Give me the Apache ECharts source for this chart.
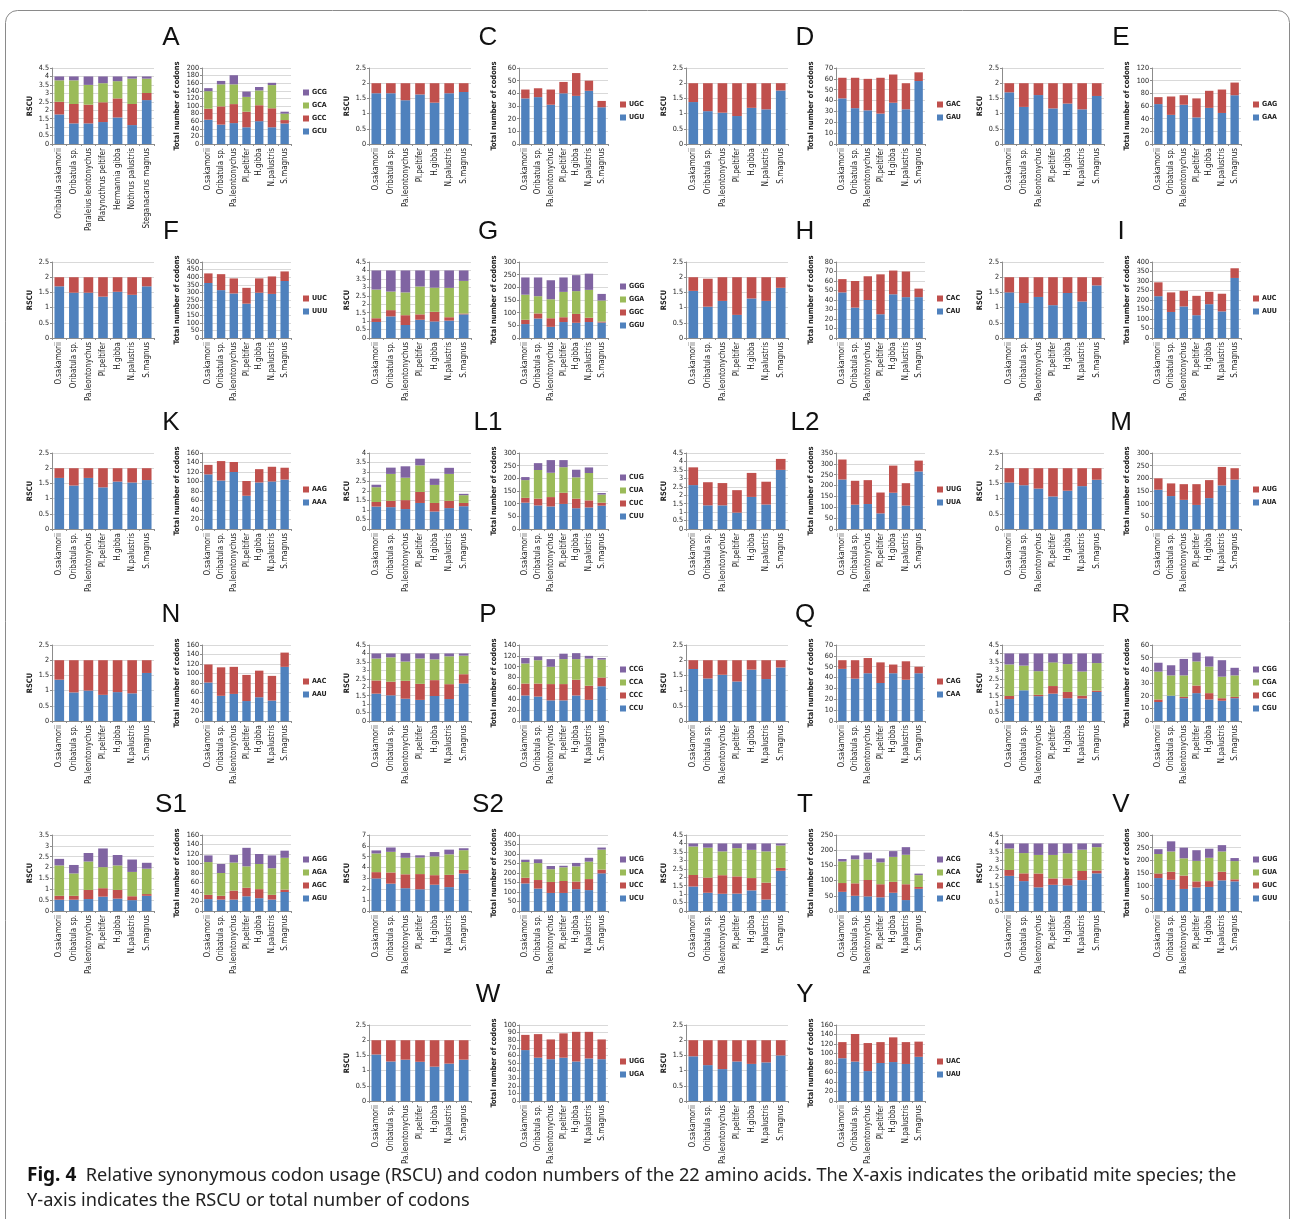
<!DOCTYPE html>
<html><head><meta charset="utf-8">
<script src="https://cdn.jsdelivr.net/npm/echarts@6/dist/echarts.min.js"></script>
<style>html,body{margin:0;padding:0;background:#fff;} #c{width:1295px;height:1219px;}</style>
</head><body><div id="c"></div>
<script>
const speciesShort = ['O.sakamorii','Oribatula sp.','Pa.leontonychus','Pl.peltifer','H.gibba','N.palustris','S.magnus'];
const speciesFull = ['Oribatula sakamorii','Oribatula sp.','Paraleius leontonychus','Platynothrus peltifer','Hermannia gibba','Nothrus palustris','Steganacarus magnus'];

const codons_A = ['GCU','GCC','GCA','GCG'];
const rscu_A = [[1.75,1.22,1.22,1.30,1.57,1.12,2.60],[0.75,1.15,1.11,1.17,1.13,1.25,0.42],[1.27,1.40,1.17,1.13,1.02,1.50,0.85],[0.23,0.23,0.50,0.40,0.28,0.13,0.13]];
const count_A = [[64,51,55,44,60,44,54],[29,48,50,41,42,50,9],[46,58,52,39,39,61,17],[8,9,24,14,9,6,5]];
const rscuTicks_A = [4.5,0.5], countTicks_A = [200,20];

const codons_C = ['UGU','UGC'];
const rscu_C = [[1.67,1.67,1.44,1.63,1.36,1.67,1.71],[0.33,0.33,0.56,0.37,0.64,0.33,0.29]];
const count_C = [[36,37,31,40,38,42,29],[7,7,12,9,18,8,5]];
const rscuTicks_C = [2.5,0.5], countTicks_C = [60,10];

const codons_D = ['GAU','GAC'];
const rscu_D = [[1.38,1.08,1.03,0.92,1.19,1.14,1.76],[0.62,0.92,0.97,1.08,0.81,0.86,0.24]];
const count_D = [[42,33,31,28,38,32,58],[19,28,29,33,26,24,8]];
const rscuTicks_D = [2.5,0.5], countTicks_D = [70,10];

const codons_E = ['GAA','GAG'];
const rscu_E = [[1.70,1.22,1.61,1.17,1.33,1.14,1.58],[0.30,0.78,0.39,0.83,0.67,0.86,0.42]];
const count_E = [[63,46,62,42,57,49,77],[11,29,15,30,27,37,20]];
const rscuTicks_E = [2.5,0.5], countTicks_E = [120,20];

const codons_F = ['UUU','UUC'];
const rscu_F = [[1.70,1.49,1.49,1.36,1.52,1.42,1.70],[0.30,0.51,0.51,0.64,0.48,0.58,0.30]];
const count_F = [[362,315,293,226,298,290,375],[63,105,99,104,94,115,63]];
const rscuTicks_F = [2.5,0.5], countTicks_F = [500,50];

const codons_G = ['GGU','GGC','GGA','GGG'];
const rscu_G = [[0.95,1.28,0.77,1.08,0.98,1.03,1.40],[0.22,0.37,0.58,0.32,0.57,0.20,0.05],[1.70,1.10,1.35,1.65,1.43,1.74,1.93],[1.13,1.25,1.30,0.95,1.02,1.03,0.62]];
const count_G = [[55,77,44,63,60,63,61],[17,20,34,19,35,17,4],[99,68,75,100,90,110,83],[68,74,75,57,63,64,26]];
const rscuTicks_G = [4.5,0.5], countTicks_G = [300,50];

const codons_H = ['CAU','CAC'];
const rscu_H = [[1.55,1.03,1.22,0.76,1.30,1.22,1.65],[0.45,0.92,0.78,1.24,0.70,0.78,0.35]];
const count_H = [[48,32,40,25,46,43,43],[14,28,25,42,25,27,9]];
const rscuTicks_H = [2.5,0.5], countTicks_H = [80,10];

const codons_I = ['AUU','AUC'];
const rscu_I = [[1.50,1.15,1.35,1.08,1.48,1.20,1.73],[0.50,0.85,0.65,0.92,0.52,0.80,0.27]];
const count_I = [[220,137,166,120,178,140,316],[73,103,82,102,65,93,51]];
const rscuTicks_I = [2.5,0.5], countTicks_I = [400,50];

const codons_K = ['AAA','AAG'];
const rscu_K = [[1.68,1.43,1.68,1.37,1.56,1.53,1.61],[0.32,0.57,0.32,0.63,0.44,0.47,0.39]];
const count_K = [[115,102,120,70,98,100,104],[20,41,21,31,28,31,25]];
const rscuTicks_K = [2.5,0.5], countTicks_K = [160,20];

const codons_L1 = ['CUU','CUC','CUA','CUG'];
const rscu_L1 = [[1.18,1.15,1.05,1.37,0.92,1.10,1.20],[0.24,0.33,0.47,0.58,0.45,0.38,0.17],[0.78,1.42,1.18,1.40,0.95,1.42,0.41],[0.13,0.33,0.60,0.35,0.33,0.32,0.07]];
const count_L1 = [[104,93,89,99,82,85,92],[19,27,37,44,38,28,12],[70,113,96,101,84,108,32],[12,27,50,28,30,22,6]];
const rscuTicks_L1 = [4,0.5], countTicks_L1 = [300,50];

const codons_L2 = ['UUA','UUG'];
const rscu_L2 = [[2.60,1.40,1.40,0.97,1.90,1.45,3.50],[1.05,1.37,1.32,1.33,1.42,1.35,0.65]];
const count_L2 = [[228,112,115,72,167,108,265],[92,110,110,96,125,103,50]];
const rscuTicks_L2 = [4.5,0.5], countTicks_L2 = [350,50];

const codons_M = ['AUA','AUG'];
const rscu_M = [[1.53,1.44,1.33,1.07,1.26,1.41,1.62],[0.47,0.56,0.67,0.93,0.74,0.59,0.38]];
const count_M = [[155,130,115,95,122,172,195],[45,50,62,82,71,73,45]];
const rscuTicks_M = [2.5,0.5], countTicks_M = [300,50];

const codons_N = ['AAU','AAC'];
const rscu_N = [[1.36,0.94,1.00,0.86,0.95,0.91,1.58],[0.64,1.06,1.00,1.14,1.05,1.09,0.42]];
const count_N = [[81,53,57,42,50,43,114],[38,60,57,55,56,52,30]];
const rscuTicks_N = [2.5,0.5], countTicks_N = [160,20];

const codons_P = ['CCU','CCC','CCA','CCG'];
const rscu_P = [[1.62,1.52,1.32,1.25,1.48,1.30,2.22],[0.78,0.81,1.06,0.95,0.94,0.88,0.55],[1.30,1.44,1.14,1.50,1.23,1.65,1.10],[0.30,0.23,0.48,0.30,0.35,0.17,0.13]];
const count_P = [[47,45,38,38,47,39,64],[22,24,30,30,29,26,16],[37,43,32,46,38,50,33],[10,7,14,10,11,5,3]];
const rscuTicks_P = [4.5,0.5], countTicks_P = [140,20];

const codons_Q = ['CAA','CAG'];
const rscu_Q = [[1.71,1.40,1.52,1.30,1.69,1.38,1.76],[0.29,0.60,0.48,0.70,0.31,0.62,0.24]];
const count_Q = [[48,39,44,35,44,38,44],[8,17,14,19,8,17,6]];
const rscuTicks_Q = [2.5,0.5], countTicks_Q = [70,10];

const codons_R = ['CGU','CGC','CGA','CGG'];
const rscu_R = [[1.30,1.82,1.47,1.62,1.35,1.33,1.72],[0.18,0.00,0.08,0.45,0.37,0.17,0.08],[1.87,1.46,1.40,1.40,1.65,1.43,1.63],[0.65,0.72,1.05,0.53,0.63,1.07,0.57]];
const count_R = [[15,20,18,22,17,16,18],[2,0,1,6,5,2,1],[22,16,17,19,21,17,17],[7,8,13,7,8,13,6]];
const rscuTicks_R = [4.5,0.5], countTicks_R = [60,10];

const codons_S1 = ['AGU','AGC','AGA','AGG'];
const rscu_S1 = [[0.52,0.52,0.55,0.66,0.57,0.50,0.70],[0.18,0.18,0.42,0.39,0.40,0.18,0.08],[1.40,1.03,1.31,0.97,1.13,1.12,1.17],[0.30,0.39,0.39,0.86,0.48,0.57,0.27]];
const count_S1 = [[25,24,24,31,27,24,40],[9,8,19,18,19,10,5],[69,48,59,45,53,56,67],[14,19,16,39,21,27,15]];
const rscuTicks_S1 = [3.5,0.5], countTicks_S1 = [160,20];

const codons_S2 = ['UCU','UCC','UCA','UCG'];
const rscu_S2 = [[3.00,2.52,2.10,2.00,2.42,2.20,3.45],[0.58,1.03,1.28,1.40,0.88,1.13,0.33],[1.72,1.90,1.52,1.52,1.73,1.89,1.82],[0.28,0.40,0.45,0.21,0.40,0.43,0.18]];
const count_S2 = [[145,118,95,95,115,110,198],[30,45,58,63,40,58,20],[83,89,67,72,80,92,105],[12,20,17,8,18,20,11]];
const rscuTicks_S2 = [7,1], countTicks_S2 = [400,50];

const codons_T = ['ACU','ACC','ACA','ACG'];
const rscu_T = [[1.45,1.08,1.02,1.03,1.22,0.68,2.38],[0.68,0.90,1.10,1.02,0.73,1.00,0.17],[1.69,1.77,1.41,1.67,1.67,1.85,1.33],[0.18,0.25,0.47,0.28,0.38,0.47,0.12]];
const count_T = [[63,50,48,45,60,36,73],[29,41,54,43,36,52,6],[71,79,68,72,82,97,39],[8,13,22,13,19,25,5]];
const rscuTicks_T = [4.5,0.5], countTicks_T = [250,50];

const codons_V = ['GUU','GUC','GUA','GUG'];
const rscu_V = [[2.08,1.77,1.40,1.55,1.52,1.83,2.23],[0.35,0.46,0.82,0.38,0.41,0.54,0.17],[1.27,1.20,1.10,1.39,1.49,1.26,1.38],[0.30,0.57,0.68,0.68,0.58,0.37,0.22]];
const count_V = [[130,123,87,93,95,121,117],[18,32,53,24,23,34,8],[77,80,68,81,92,80,72],[19,40,42,42,36,25,12]];
const rscuTicks_V = [4.5,0.5], countTicks_V = [300,50];

const codons_W = ['UGA','UGG'];
const rscu_W = [[1.53,1.30,1.36,1.29,1.13,1.23,1.36],[0.47,0.70,0.64,0.71,0.87,0.77,0.64]];
const count_W = [[67,57,55,57,52,56,55],[20,31,26,32,39,35,26]];
const rscuTicks_W = [2.5,0.5], countTicks_W = [100,10];

const codons_Y = ['UAU','UAC'];
const rscu_Y = [[1.47,1.18,1.05,1.30,1.22,1.27,1.50],[0.53,0.82,0.95,0.70,0.78,0.73,0.50]];
const count_Y = [[90,83,63,80,82,78,93],[34,58,59,44,52,46,32]];
const rscuTicks_Y = [2.5,0.5], countTicks_Y = [160,20];

const captionBold = 'Fig. 4';
const captionLine1 = 'Relative synonymous codon usage (RSCU) and codon numbers of the 22 amino acids. The X-axis indicates the oribatid mite species; the';
const captionLine2 = 'Y-axis indicates the RSCU or total number of codons';

const panels = [
  ['A',codons_A,rscu_A,count_A,rscuTicks_A,countTicks_A,0,0,true],
  ['C',codons_C,rscu_C,count_C,rscuTicks_C,countTicks_C,0,1],
  ['D',codons_D,rscu_D,count_D,rscuTicks_D,countTicks_D,0,2],
  ['E',codons_E,rscu_E,count_E,rscuTicks_E,countTicks_E,0,3],
  ['F',codons_F,rscu_F,count_F,rscuTicks_F,countTicks_F,1,0],
  ['G',codons_G,rscu_G,count_G,rscuTicks_G,countTicks_G,1,1],
  ['H',codons_H,rscu_H,count_H,rscuTicks_H,countTicks_H,1,2],
  ['I',codons_I,rscu_I,count_I,rscuTicks_I,countTicks_I,1,3],
  ['K',codons_K,rscu_K,count_K,rscuTicks_K,countTicks_K,2,0],
  ['L1',codons_L1,rscu_L1,count_L1,rscuTicks_L1,countTicks_L1,2,1],
  ['L2',codons_L2,rscu_L2,count_L2,rscuTicks_L2,countTicks_L2,2,2],
  ['M',codons_M,rscu_M,count_M,rscuTicks_M,countTicks_M,2,3],
  ['N',codons_N,rscu_N,count_N,rscuTicks_N,countTicks_N,3,0],
  ['P',codons_P,rscu_P,count_P,rscuTicks_P,countTicks_P,3,1],
  ['Q',codons_Q,rscu_Q,count_Q,rscuTicks_Q,countTicks_Q,3,2],
  ['R',codons_R,rscu_R,count_R,rscuTicks_R,countTicks_R,3,3],
  ['S1',codons_S1,rscu_S1,count_S1,rscuTicks_S1,countTicks_S1,4,0],
  ['S2',codons_S2,rscu_S2,count_S2,rscuTicks_S2,countTicks_S2,4,1],
  ['T',codons_T,rscu_T,count_T,rscuTicks_T,countTicks_T,4,2],
  ['V',codons_V,rscu_V,count_V,rscuTicks_V,countTicks_V,4,3],
  ['W',codons_W,rscu_W,count_W,rscuTicks_W,countTicks_W,5,1],
  ['Y',codons_Y,rscu_Y,count_Y,rscuTicks_Y,countTicks_Y,5,2]
];

const COLORS = ['#4F81BD','#C0504D','#9BBB59','#8064A2'];
const FONT = '"Liberation Sans Narrow","DejaVu Sans Condensed","Arial Narrow",sans-serif';
const GX = [0,317,634,950];
const ROWTOP = [68,262,453,645,835,1025];
const PH = 76;

const grid=[], xAxis=[], yAxis=[], series=[], legend=[], graphic=[];

function addChart(gi, left, width, top, cats, ticks, name, nameGap, codons, data, stackId){
  grid.push({left:left, top:top, width:width, height:PH});
  xAxis.push({gridIndex:gi, type:'category', data:cats,
    axisLine:{lineStyle:{color:'#8c8c8c',width:1}},
    axisTick:{show:true,length:2,lineStyle:{color:'#8c8c8c'}},
    axisLabel:{rotate:90, interval:0, fontSize:8, margin:4, color:'#222', fontFamily:FONT}});
  yAxis.push({gridIndex:gi, type:'value', min:0, max:ticks[0], interval:ticks[1],
    name:name, nameLocation:'middle', nameRotate:90, nameGap:nameGap,
    nameTextStyle:{fontSize:7.5, fontWeight:'bold', color:'#222', fontFamily:FONT},
    axisLine:{show:true, lineStyle:{color:'#8c8c8c'}},
    axisTick:{show:true, length:2, lineStyle:{color:'#8c8c8c'}},
    splitLine:{lineStyle:{color:'#d9d9d9', width:1}},
    axisLabel:{fontSize:7.2, margin:3, color:'#222', fontFamily:FONT, showMinLabel:true, showMaxLabel:true, hideOverlap:false}});
  codons.forEach((c,k)=>{
    series.push({type:'bar', name:c, xAxisIndex:gi, yAxisIndex:gi, stack:stackId,
      data:data[k], barCategoryGap:'34%', itemStyle:{color:COLORS[k]}, emphasis:{disabled:true}});
  });
}

let gi = 0;
panels.forEach((p)=>{
  const [label,codons,rscu,count,rt,ct,row,col,full] = p;
  const x0 = GX[col], y0 = ROWTOP[row];
  graphic.push({type:'text', x:x0+171, y:y0-30,
    style:{text:label, fontSize:26, fontFamily:'"Liberation Sans",Arial,sans-serif', fill:'#111', textAlign:'center', textVerticalAlign:'middle'}});
  addChart(gi, x0+52, 102, y0, full ? speciesFull : speciesShort, rt, 'RSCU', 18, codons, rscu, 'r'+gi);
  gi++;
  addChart(gi, x0+202, 89, y0, speciesShort, ct, 'Total number of codons', 21, codons, count, 'c'+gi);
  gi++;
  const n = codons.length;
  legend.push({orient:'vertical', left:x0+298, top:y0+40-n*6, data:codons.slice().reverse(),
    icon:'rect', itemWidth:6, itemHeight:6, itemGap:6, selectedMode:false,
    textStyle:{fontSize:7, fontWeight:'bold', color:'#222', fontFamily:FONT, padding:[0,0,0,-2]}});
});

graphic.push({type:'rect', shape:{x:5.5, y:10.5, width:1284, height:1240, r:12},
  style:{fill:'none', stroke:'#8a8a8a', lineWidth:1}, z:-10});
graphic.push({type:'text', x:27, y:1163,
  style:{text:'{b|'+captionBold+'}  '+captionLine1+'\n'+captionLine2,
    fontSize:18.2, lineHeight:25, fontFamily:'"Noto Sans","Open Sans",sans-serif', fill:'#222',
    rich:{b:{fontSize:19, fontWeight:'bold', fontFamily:'"Noto Sans","Open Sans",sans-serif', fill:'#111'}}}});

const chart = echarts.init(document.getElementById('c'), null, {renderer:'canvas'});
chart.setOption({animation:false, backgroundColor:'#fff', grid, xAxis, yAxis, series, legend, graphic, tooltip:{show:false}});
</script></body></html>
